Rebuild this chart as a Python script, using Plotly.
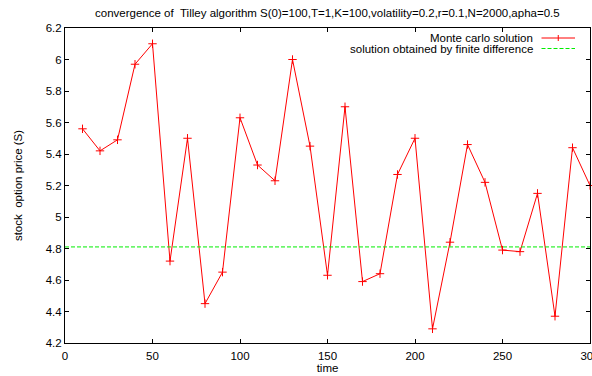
import plotly.graph_objects as go

# ---- data ----
time = [10, 20, 30, 40, 50, 60, 70, 80, 90, 100, 110, 120, 130, 140, 150,
        160, 170, 180, 190, 200, 210, 220, 230, 240, 250, 260, 270, 280, 290, 300]
monte_carlo = [5.56, 5.42, 5.49, 5.97, 6.10, 4.72, 5.50, 4.45, 4.65, 5.63,
               5.33, 5.23, 6.00, 5.45, 4.63, 5.70, 4.59, 4.64, 5.27, 5.50,
               4.29, 4.84, 5.46, 5.22, 4.79, 4.78, 5.15, 4.37, 5.44, 5.20]
finite_diff_value = 4.81
x_range = [0, 300]
y_range = [4.2, 6.2]
x_ticks = [0, 50, 100, 150, 200, 250, 300]
y_ticks = [4.2, 4.4, 4.6, 4.8, 5.0, 5.2, 5.4, 5.6, 5.8, 6.0, 6.2]
y_tick_labels = ["4.2", "4.4", "4.6", "4.8", "5", "5.2", "5.4", "5.6", "5.8", "6", "6.2"]

title = "convergence of &nbsp;Tilley algorithm S(0)=100,T=1,K=100,volatility=0.2,r=0.1,N=2000,apha=0.5"
legend_labels = ["Monte carlo solution", "solution obtained by finite difference"]

RED = "#ff0000"
GREEN = "#00ee00"
FONT = "Liberation Sans, Arial, sans-serif"
FS = 11.5

fig = go.Figure()
fig.add_trace(go.Scatter(
    x=time, y=monte_carlo, mode="lines+markers",
    line=dict(color=RED, width=1),
    marker=dict(symbol="cross-thin", size=6, line=dict(color=RED, width=1)),
    cliponaxis=False, showlegend=False))
fig.add_trace(go.Scatter(
    x=x_range, y=[finite_diff_value, finite_diff_value], mode="lines",
    line=dict(color=GREEN, width=1, dash="4px,2px"),
    showlegend=False))

W, H = 592, 376
ml, mr, mt, mb = 65, 2, 28, 33
pw, ph = W - ml - mr, H - mt - mb

def px_x(p):
    return (p - ml) / pw

def px_y(p):
    return 1 - (p - mt) / ph

shapes = []
annotations = []
legend_rows = [38, 48.5]
for i, (lab, yy) in enumerate(zip(legend_labels, legend_rows)):
    annotations.append(dict(
        x=px_x(535), y=px_y(yy), xref="paper", yref="paper",
        text=lab, showarrow=False, xanchor="right", yanchor="middle",
        font=dict(family=FONT, size=FS, color="#000000")))
    if i == 0:
        shapes.append(dict(type="line", xref="paper", yref="paper",
                           x0=px_x(541.5), x1=px_x(575), y0=px_y(yy), y1=px_y(yy),
                           line=dict(color=RED, width=1)))
        cx = (541.5 + 575) / 2
        shapes.append(dict(type="line", xref="paper", yref="paper",
                           x0=px_x(cx), x1=px_x(cx), y0=px_y(yy - 3), y1=px_y(yy + 3),
                           line=dict(color=RED, width=1)))
    else:
        shapes.append(dict(type="line", xref="paper", yref="paper",
                           x0=px_x(541.5), x1=px_x(575), y0=px_y(yy), y1=px_y(yy),
                           line=dict(color=GREEN, width=1, dash="4px,2px")))

annotations.append(dict(
    x=0.5, y=px_y(13), xref="paper", yref="paper", text=title,
    showarrow=False, xanchor="center", yanchor="middle",
    font=dict(family=FONT, size=FS, color="#000000")))

axis_common = dict(
    showline=True, mirror="ticks", linecolor="#000000", linewidth=1,
    ticks="inside", ticklen=4, tickwidth=1, tickcolor="#000000",
    showgrid=False, zeroline=False, ticklabeloverflow="allow", automargin=False,
    tickfont=dict(family=FONT, size=FS, color="#000000"),
)

fig.update_layout(
    width=W, height=H,
    margin=dict(l=ml, r=mr, t=mt, b=mb),
    paper_bgcolor="white", plot_bgcolor="white",
    font=dict(family=FONT, size=FS, color="#000000"),
    xaxis=dict(range=x_range, tickvals=x_ticks, ticklabelstandoff=2, **axis_common,
               title=dict(text="time", standoff=3,
                          font=dict(family=FONT, size=FS))),
    yaxis=dict(range=y_range, tickvals=y_ticks, ticktext=y_tick_labels, **axis_common,
               title=dict(text="stock &nbsp;option price (S)", standoff=20,
                          font=dict(family=FONT, size=FS))),
    shapes=shapes,
    annotations=annotations,
)

fig.write_html("out.html")
